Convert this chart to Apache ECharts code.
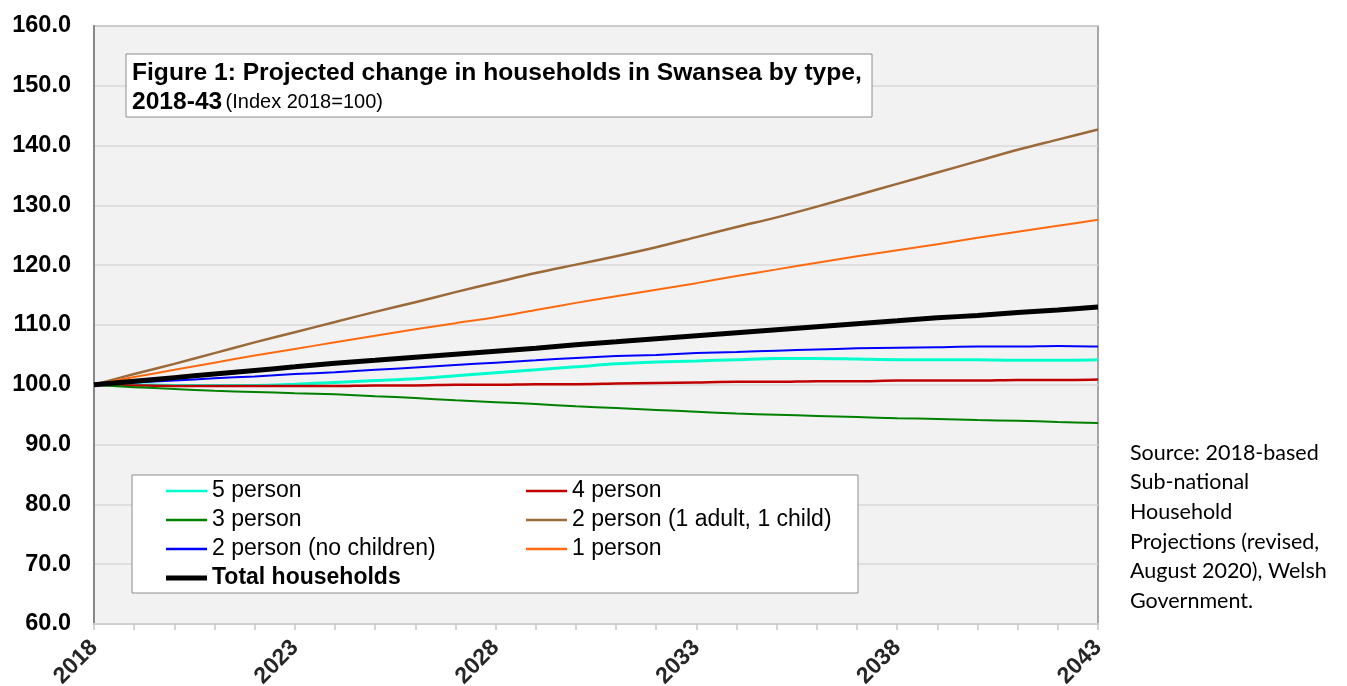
<!DOCTYPE html>
<html>
<head>
<meta charset="utf-8">
<script src="https://cdn.jsdelivr.net/npm/echarts@6/dist/echarts.min.js"></script>
<style>
html,body{margin:0;padding:0;background:#fff;}
#chart{width:1347px;height:686px;}
</style>
</head>
<body>
<div id="chart"></div>
<script>
const years = ['2018','2019','2020','2021','2022','2023','2024','2025','2026','2027','2028','2029','2030','2031','2032','2033','2034','2035','2036','2037','2038','2039','2040','2041','2042','2043'];
const yTicks = [60,70,80,90,100,110,120,130,140,150,160];
const person5 = [100,100.0,99.9,99.9,99.9,100.1,100.4,100.7,101.0,101.5,102.0,102.5,103.0,103.5,103.8,104.0,104.2,104.4,104.4,104.3,104.2,104.2,104.2,104.1,104.1,104.2];
const person4 = [100,99.9,99.8,99.8,99.8,99.8,99.8,99.9,99.9,100.0,100.0,100.1,100.1,100.2,100.3,100.4,100.5,100.5,100.6,100.6,100.7,100.7,100.7,100.8,100.8,100.9];
const person3 = [100,99.6,99.3,99.0,98.8,98.6,98.4,98.1,97.8,97.4,97.1,96.8,96.4,96.1,95.8,95.5,95.2,95.0,94.8,94.6,94.4,94.3,94.1,94.0,93.8,93.6];
const person2Child = [100,101.8,103.5,105.3,107.1,108.8,110.5,112.2,113.8,115.5,117.1,118.7,120.1,121.5,123.0,124.7,126.4,128.0,129.8,131.7,133.6,135.5,137.4,139.3,141.0,142.7];
const person2NoChild = [100,100.4,100.7,101.1,101.4,101.8,102.1,102.5,102.9,103.3,103.7,104.1,104.5,104.8,105.0,105.3,105.5,105.7,105.9,106.1,106.2,106.3,106.4,106.4,106.5,106.4];
const person1 = [100,101.3,102.5,103.7,104.9,106.0,107.1,108.2,109.3,110.3,111.3,112.5,113.7,114.8,115.9,117.0,118.2,119.3,120.4,121.5,122.5,123.5,124.6,125.6,126.6,127.6];
const total = [100,100.6,101.2,101.8,102.4,103.0,103.6,104.1,104.6,105.1,105.6,106.1,106.7,107.2,107.7,108.2,108.7,109.2,109.7,110.2,110.7,111.2,111.6,112.1,112.5,113.0];

const seriesDefs = [
  {name:'5 person', data:person5, color:'#00ffcc', width:3},
  {name:'4 person', data:person4, color:'#c00000', width:2.5},
  {name:'3 person', data:person3, color:'#008000', width:2},
  {name:'2 person (1 adult, 1 child)', data:person2Child, color:'#9c6a3a', width:2.5},
  {name:'2 person (no children)', data:person2NoChild, color:'#0000ff', width:2},
  {name:'1 person', data:person1, color:'#ff6a10', width:2},
  {name:'Total households', data:total, color:'#000000', width:5}
];

const FONT = 'Liberation Sans, Arial, sans-serif';
const chart = echarts.init(document.getElementById('chart'));
const legendText = {fontFamily:FONT, fontSize:23, color:'#000', lineHeight:23,
  rich:{b:{fontFamily:FONT, fontSize:23, fontWeight:'bold', color:'#000', lineHeight:23}}};
const fmt = n => n === 'Total households' ? '{b|' + n + '}' : n;
const legendBase = {orient:'vertical', icon:'rect', itemWidth:41, itemGap:6, textStyle:legendText,
  formatter:fmt, selectedMode:false, padding:0};

chart.setOption({
  animation:false,
  backgroundColor:'#ffffff',
  grid:{left:94, top:26, right:249, bottom:62, containLabel:false, outerBoundsMode:'none',
        show:true, backgroundColor:'#f2f2f2', borderColor:'#8c8c8c', borderWidth:1.5},
  xAxis:{
    type:'category', data:years, boundaryGap:false,
    axisLine:{lineStyle:{color:'#d0d0d0', width:2}},
    axisTick:{show:true, interval:0, length:6, lineStyle:{color:'#c8c8c8', width:1.5}},
    axisLabel:{interval:4, rotate:45, fontFamily:FONT, fontSize:23, fontWeight:'bold', color:'#262626', margin:20},
    splitLine:{show:false}
  },
  yAxis:{
    type:'value', min:yTicks[0], max:yTicks[yTicks.length-1], interval:10,
    axisLine:{show:true, lineStyle:{color:'#888', width:2}},
    axisTick:{show:false},
    axisLabel:{fontFamily:FONT, fontSize:23.5, fontWeight:'bold', color:'#000', margin:23, formatter:v => v.toFixed(1)},
    splitLine:{lineStyle:{color:'#d9d9d9', width:1.5}}
  },
  legend:[
    Object.assign({}, legendBase, {data:['5 person','3 person','2 person (no children)'], left:166, top:479.5, itemHeight:2.5}),
    Object.assign({}, legendBase, {data:['Total households'], left:166, top:566.5, itemHeight:5}),
    Object.assign({}, legendBase, {data:['4 person','2 person (1 adult, 1 child)','1 person'], left:526, top:479.5, itemHeight:2.5})
  ],
  graphic:[
    {type:'rect', z:5, shape:{x:126, y:54, width:746, height:63}, style:{fill:'#fff', stroke:'#8c8c8c', lineWidth:1}},
    {type:'text', z:6, x:132, y:59, style:{
      text:'{t|Figure 1: Projected change in households in Swansea by type,}\n{t|2018-43} {s|(Index 2018=100)}',
      rich:{t:{fontFamily:FONT, fontSize:24.6, fontWeight:'bold', color:'#000', lineHeight:29},
            s:{fontFamily:FONT, fontSize:20, color:'#000', lineHeight:29}}}},
    {type:'rect', z:1, shape:{x:132, y:475, width:726, height:118}, style:{fill:'#fff', stroke:'#8c8c8c', lineWidth:1}},
    {type:'text', z:6, x:1130, y:438, style:{
      text:'Source: 2018-based\nSub-national\nHousehold\nProjections (revised,\nAugust 2020), Welsh\nGovernment.',
      fontFamily:'Lato, Noto Sans, sans-serif', fontSize:21.5, lineHeight:29.6, fill:'#000'}}
  ],
  series:seriesDefs.map(s => ({
    name:s.name, type:'line', data:s.data, symbol:'none', showSymbol:false, smooth:0.3,
    lineStyle:{color:s.color, width:s.width}, itemStyle:{color:s.color}, z:3
  }))
});
</script>
</body>
</html>
